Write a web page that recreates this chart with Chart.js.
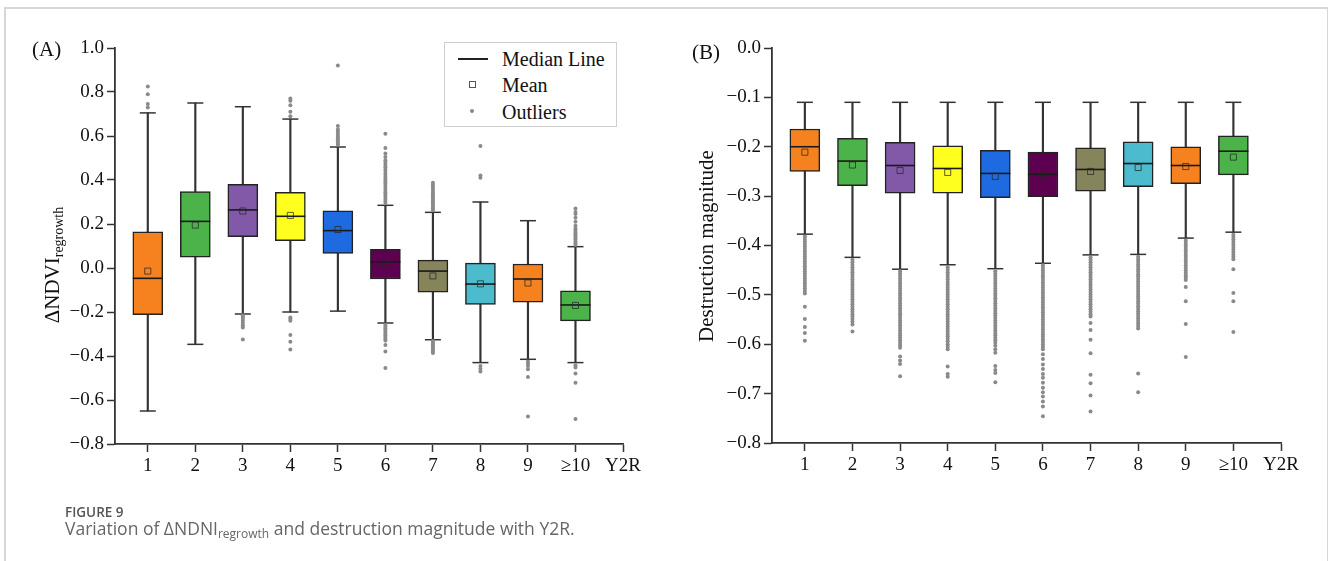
<!DOCTYPE html>
<html>
<head>
<meta charset="utf-8">
<script src="https://cdn.jsdelivr.net/npm/chart.js@4.4.1/dist/chart.umd.min.js"></script>
<style>
  body { margin: 0; background: #fff; }
  #page { position: relative; width: 1328px; height: 561px; overflow: hidden; font-family: "Liberation Serif", serif; color: #111; }
  canvas { position: absolute; top: 0; }
  .abs { position: absolute; white-space: nowrap; }
  #frame { position: absolute; left: 4px; top: 7px; width: 1321px; height: 560px; border: 2px solid #d6d6d6; border-bottom: none; }
  .ytitle { font-size: 21px; transform: translate(-50%, -50%) rotate(-90deg); }
  .ytitle sub { font-size: 14px; vertical-align: -4px; }
  #legend { position: absolute; left: 444px; top: 42px; width: 171px; height: 83px; border: 1px solid #cfcfcf; background: #fff; }
  #legend .t { position: absolute; left: 57px; font-size: 20px; line-height: 22px; }
  .cap1 { font-family: "Open Sans", sans-serif; font-size: 13.5px; font-weight: 600; color: #555; }
  .cap2 { font-family: "Open Sans", sans-serif; font-size: 17.5px; color: #666; }
  .cap2 sub { font-size: 12px; vertical-align: -3px; }
</style>
</head>
<body>
<div id="page">
  <div id="frame"></div>
  <canvas id="cA" width="664" height="561" style="left:0"></canvas>
  <canvas id="cB" width="664" height="561" style="left:664px"></canvas>

  <div class="abs" style="left:32px; top:37px; font-size:21px;">(A)</div>
  <div class="abs" style="left:692px; top:40px; font-size:21px;">(B)</div>
  <div class="abs ytitle" style="left:53px; top:265px;">ΔNDVI<sub>regrowth</sub></div>
  <div class="abs ytitle" style="left:706px; top:246px;">Destruction magnitude</div>

  <div id="legend">
    <div style="position:absolute; left:13px; top:15px; width:30px; height:2px; background:#222;"></div>
    <div class="t" style="top:5px;">Median Line</div>
    <div style="position:absolute; left:24px; top:38px; width:5px; height:5px; border:1px solid #555;"></div>
    <div class="t" style="top:31px;">Mean</div>
    <div style="position:absolute; left:25px; top:66px; width:4px; height:4px; border-radius:2px; background:#888;"></div>
    <div class="t" style="top:58px;">Outliers</div>
  </div>

  <div class="abs cap1" style="left:65px; top:503px;">FIGURE 9</div>
  <div class="abs cap2" style="left:65px; top:516px;">Variation of ΔNDNI<sub>regrowth</sub> and destruction magnitude with Y2R.</div>
</div>

<script>
// categories (x positions) and tick labels
const cats = [1, 2, 3, 4, 5, 6, 7, 8, 9, 10];
const xTickVals = [1, 2, 3, 4, 5, 6, 7, 8, 9, 10, 11];
const xLabels = ['1', '2', '3', '4', '5', '6', '7', '8', '9', '\u226510', 'Y2R'];
const boxColors = ['#F5821F', '#4BB349', '#8159A8', '#FFFF1F', '#1E6BE1', '#5E0050', '#85845A', '#4CBBCD', '#F5821F', '#4BB349'];

// panel A: delta NDVI regrowth
const aMax = [0.705, 0.75, 0.733, 0.677, 0.55, 0.285, 0.253, 0.30, 0.215, 0.097];
const aQ3 = [0.164, 0.347, 0.38, 0.344, 0.26, 0.085, 0.036, 0.022, 0.018, -0.104];
const aMed = [-0.047, 0.212, 0.264, 0.235, 0.17, 0.028, -0.014, -0.073, -0.05, -0.168];
const aMean = [-0.014, 0.195, 0.259, 0.239, 0.175, 0.018, -0.036, -0.072, -0.068, -0.17];
const aQ1 = [-0.212, 0.049, 0.142, 0.124, 0.066, -0.05, -0.11, -0.165, -0.155, -0.24];
const aMin = [-0.65, -0.347, -0.209, -0.20, -0.196, -0.25, -0.326, -0.43, -0.415, -0.43];
const aOut = [
  [0.73, 0.745, 0.79, 0.825],
  [],
  [-0.215, -0.222, -0.23, -0.24, -0.25, -0.26, -0.27, -0.325],
  [0.69, 0.71, 0.74, 0.76, 0.77, -0.225, -0.232, -0.24, -0.305, -0.335, -0.37],
  [0.56, 0.568, 0.576, 0.584, 0.592, 0.60, 0.61, 0.62, 0.63, 0.645, 0.92],
  [0.61, 0.545, 0.52, 0.505, 0.49, 0.48, 0.468, 0.458, 0.447, 0.436, 0.425, 0.414, 0.404, 0.394, 0.384, 0.374, 0.364, 0.354, 0.344, 0.334, 0.324, 0.314, 0.304, 0.295,
   -0.258, -0.266, -0.274, -0.282, -0.29, -0.298, -0.306, -0.314, -0.322, -0.33, -0.35, -0.38, -0.455],
  [0.262, 0.27, 0.278, 0.286, 0.294, 0.302, 0.31, 0.318, 0.326, 0.334, 0.342, 0.35, 0.36, 0.37, 0.378, 0.387,
   -0.332, -0.34, -0.348, -0.356, -0.364, -0.372, -0.38, -0.386],
  [0.41, 0.42, 0.555, -0.445, -0.458, -0.47],
  [-0.425, -0.435, -0.445, -0.46, -0.495, -0.675],
  [0.105, 0.113, 0.121, 0.129, 0.137, 0.145, 0.153, 0.161, 0.17, 0.18, 0.192, 0.21, 0.228, 0.245, 0.255, 0.27,
   -0.442, -0.452, -0.48, -0.522, -0.686]
];

// panel B: destruction magnitude
const bMax = [-0.11, -0.11, -0.11, -0.11, -0.11, -0.11, -0.11, -0.11, -0.11, -0.11];
const bQ3 = [-0.164, -0.183, -0.191, -0.198, -0.207, -0.211, -0.202, -0.19, -0.20, -0.178];
const bMed = [-0.20, -0.229, -0.238, -0.244, -0.254, -0.256, -0.246, -0.234, -0.238, -0.209];
const bMean = [-0.211, -0.237, -0.248, -0.252, -0.26, -0.258, -0.25, -0.242, -0.24, -0.221];
const bQ1 = [-0.25, -0.279, -0.294, -0.294, -0.303, -0.301, -0.29, -0.281, -0.275, -0.257];
const bMin = [-0.377, -0.424, -0.448, -0.439, -0.447, -0.436, -0.419, -0.418, -0.385, -0.373];
const bOut = [
  [-0.382, -0.387, -0.392, -0.397, -0.402, -0.407, -0.412, -0.417, -0.422, -0.427, -0.432, -0.437, -0.442, -0.447, -0.452, -0.457, -0.462, -0.467, -0.472, -0.477, -0.482, -0.487, -0.492, -0.497,
   -0.524, -0.549, -0.565, -0.577, -0.593],
  [-0.429, -0.434, -0.439, -0.444, -0.449, -0.454, -0.459, -0.464, -0.469, -0.474, -0.479, -0.484, -0.489, -0.494, -0.499, -0.504, -0.509, -0.514, -0.519, -0.524, -0.529, -0.534, -0.539, -0.544,
   -0.549, -0.554, -0.56, -0.574],
  [-0.452, -0.457, -0.462, -0.467, -0.472, -0.477, -0.482, -0.487, -0.492, -0.497, -0.502, -0.507, -0.512, -0.517, -0.522, -0.527, -0.532, -0.537, -0.542, -0.547, -0.552, -0.557, -0.562, -0.567,
   -0.572, -0.577, -0.582, -0.587, -0.592, -0.597, -0.602, -0.607, -0.625, -0.633, -0.64, -0.665],
  [-0.444, -0.449, -0.454, -0.459, -0.464, -0.469, -0.474, -0.479, -0.484, -0.489, -0.494, -0.499, -0.504, -0.509, -0.514, -0.519, -0.524, -0.529, -0.534, -0.539, -0.544, -0.549, -0.554, -0.559,
   -0.564, -0.569, -0.574, -0.579, -0.584, -0.589, -0.594, -0.6, -0.605, -0.61, -0.645, -0.66, -0.666],
  [-0.452, -0.457, -0.462, -0.467, -0.472, -0.477, -0.482, -0.487, -0.492, -0.497, -0.502, -0.507, -0.512, -0.517, -0.522, -0.527, -0.532, -0.537, -0.542, -0.547, -0.552, -0.557, -0.562, -0.567,
   -0.572, -0.577, -0.582, -0.587, -0.592, -0.597, -0.603, -0.61, -0.617, -0.644, -0.652, -0.658, -0.677],
  [-0.44, -0.445, -0.45, -0.455, -0.46, -0.465, -0.47, -0.475, -0.48, -0.485, -0.49, -0.495, -0.5, -0.505, -0.51, -0.515, -0.52, -0.525, -0.53, -0.535, -0.54, -0.545, -0.55, -0.555,
   -0.56, -0.565, -0.57, -0.575, -0.58, -0.585, -0.59, -0.595, -0.6, -0.605, -0.61, -0.62, -0.63, -0.641, -0.65, -0.66, -0.668, -0.678, -0.688, -0.697, -0.706, -0.716, -0.726, -0.746],
  [-0.424, -0.429, -0.434, -0.439, -0.444, -0.449, -0.454, -0.459, -0.464, -0.469, -0.474, -0.479, -0.484, -0.489, -0.494, -0.499, -0.504, -0.509, -0.514, -0.519, -0.524, -0.529, -0.534, -0.539,
   -0.544, -0.557, -0.571, -0.591, -0.618, -0.662, -0.679, -0.704, -0.736],
  [-0.423, -0.428, -0.433, -0.438, -0.443, -0.448, -0.453, -0.458, -0.463, -0.468, -0.473, -0.478, -0.483, -0.488, -0.493, -0.498, -0.503, -0.508, -0.513, -0.518, -0.523, -0.528, -0.533, -0.538,
   -0.543, -0.548, -0.553, -0.558, -0.563, -0.568, -0.659, -0.697],
  [-0.39, -0.395, -0.4, -0.405, -0.41, -0.415, -0.42, -0.425, -0.43, -0.435, -0.44, -0.445, -0.45, -0.455, -0.46, -0.465, -0.47, -0.484, -0.513, -0.559, -0.626],
  [-0.378, -0.383, -0.388, -0.393, -0.398, -0.403, -0.408, -0.413, -0.418, -0.423, -0.428, -0.448, -0.496, -0.513, -0.575]
];

const AXIS = '#333';
Chart.defaults.font.family = '"Liberation Serif", "Times New Roman", serif';
const tickFont = { family: '"Liberation Serif", "Times New Roman", serif', size: 19 };

function fmt(v) {
  const s = Math.abs(v) < 1e-9 ? '0.0' : v.toFixed(1);
  return s.replace('-', '\u2212');
}

// short minor ticks on the y axis (Chart.js has no minor ticks)
const minorTicks = {
  id: 'minorTicks',
  afterDraw(chart, args, opts) {
    const y = chart.scales.y, ctx = chart.ctx;
    ctx.save();
    ctx.strokeStyle = AXIS;
    ctx.lineWidth = 1.5;
    y.ticks.forEach(t => {
      if (!opts.isMajor(t.value)) {
        const py = y.getPixelForValue(t.value);
        ctx.beginPath();
        ctx.moveTo(y.right - 5, py);
        ctx.lineTo(y.right, py);
        ctx.stroke();
      }
    });
    ctx.restore();
  }
};

function makeChart(id, s, yCfg, box) {
  const pts = arr => cats.map((x, i) => ({ x, y: arr[i] }));
  const outliers = [];
  s.out.forEach((arr, i) => arr.forEach(v => outliers.push({ x: cats[i], y: v })));

  return new Chart(document.getElementById(id), {
    type: 'bar',
    data: {
      datasets: [
        { type: 'scatter', data: outliers, pointStyle: 'circle', pointRadius: 2,
          backgroundColor: '#8a8a8a', borderWidth: 0, order: 0 },
        { type: 'scatter', data: pts(s.mean), pointStyle: 'rect', pointRadius: 4.3,
          backgroundColor: 'rgba(0,0,0,0)', borderColor: 'rgba(40,40,40,0.75)', borderWidth: 1, order: 1 },
        { type: 'scatter', data: pts(s.med), pointStyle: 'line', pointRadius: 15,
          borderColor: '#1a1a1a', borderWidth: 1.6, order: 2 },
        { type: 'scatter', data: pts(s.min).concat(pts(s.max)), pointStyle: 'line', pointRadius: 8,
          borderColor: AXIS, borderWidth: 1.5, order: 3 },
        { data: cats.map((x, i) => ({ x, y: [s.q1[i], s.q3[i]] })), backgroundColor: boxColors,
          borderColor: '#222', borderWidth: 1.5, borderSkipped: false, barThickness: 30, grouped: false, order: 4 },
        { data: cats.map((x, i) => ({ x, y: [s.min[i], s.max[i]] })), backgroundColor: AXIS,
          borderWidth: 0, barThickness: 1.5, grouped: false, order: 5 }
      ]
    },
    options: {
      responsive: false,
      animation: false,
      devicePixelRatio: 1,
      layout: { padding: box.padding },
      plugins: { legend: { display: false }, tooltip: { enabled: false }, minorTicks: { isMajor: yCfg.isMajor } },
      scales: {
        x: {
          type: 'linear', min: 0.31, max: 11, offset: false,
          grid: { display: true, offset: false, drawOnChartArea: false, drawTicks: true, tickLength: 8, tickWidth: 1.5, tickColor: AXIS },
          border: { display: true, color: AXIS, width: 1.8 },
          afterBuildTicks: sc => { sc.ticks = xTickVals.map(v => ({ value: v })); },
          afterFit: sc => { sc.height = 40; },
          ticks: { autoSkip: false, maxRotation: 0, padding: 3, color: '#111', font: tickFont,
                   callback: v => xLabels[xTickVals.indexOf(v)] }
        },
        y: {
          min: yCfg.min, max: yCfg.max,
          grid: { drawOnChartArea: false, drawTicks: true, tickLength: 8, tickWidth: 1.5,
                  tickColor: c => yCfg.isMajor(c.tick.value) ? AXIS : 'rgba(0,0,0,0)' },
          border: { display: true, color: AXIS, width: 1.8 },
          afterFit: sc => { sc.width = box.yWidth; },
          ticks: { stepSize: yCfg.step, padding: 3, color: '#111', font: tickFont,
                   callback: v => yCfg.isMajor(v) ? fmt(v) : '' }
        }
      }
    },
    plugins: [minorTicks]
  });
}

makeChart('cA',
  { min: aMin, q1: aQ1, med: aMed, mean: aMean, q3: aQ3, max: aMax, out: aOut },
  { min: -0.8, max: 1.0, step: 0.1, isMajor: v => Math.round(v * 10) % 2 === 0 },
  { padding: { left: 0, right: 41, top: 48, bottom: 77 }, yWidth: 115 });

makeChart('cB',
  { min: bMin, q1: bQ1, med: bMed, mean: bMean, q3: bQ3, max: bMax, out: bOut },
  { min: -0.8, max: 0, step: 0.05, isMajor: v => Math.round(v * 20) % 2 === 0 },
  { padding: { left: 0, right: 47, top: 48, bottom: 78 }, yWidth: 108 });
</script>
</body>
</html>
